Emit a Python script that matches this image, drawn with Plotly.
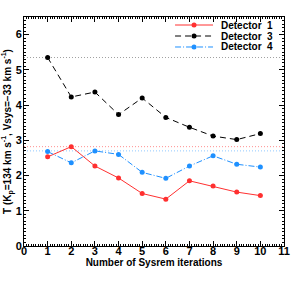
import plotly.graph_objects as go

iterations = [1, 2, 3, 4, 5, 6, 7, 8, 9, 10]
det1 = [2.53, 2.82, 2.27, 1.93, 1.49, 1.33, 1.85, 1.70, 1.53, 1.43]
det3 = [5.35, 4.23, 4.37, 3.73, 4.20, 3.65, 3.37, 3.12, 3.02, 3.19]
det4 = [2.68, 2.36, 2.70, 2.60, 2.09, 1.92, 2.27, 2.56, 2.32, 2.24]
names = ["Detector  1", "Detector  3", "Detector  4"]
x_ticks = list(range(0, 12))
y_ticks = list(range(0, 7))

font = "Liberation Sans"
fig = go.Figure()
series = [
    (det1, "#ff3030", "solid", "#ff9090"),
    (det3, "#000000", "6px,4px", "#a0a0a0"),
    (det4, "#1e90ff", "6px,2px,1px,2px", "#90c8ff"),
]
for vals, col, dash, light in series:
    fig.add_hline(y=max(vals), line=dict(color=light, width=1, dash="1px,2px"), layer="below")
for (vals, col, dash, light), nm in zip(series, names):
    fig.add_trace(go.Scatter(
        x=iterations, y=vals, name=nm, mode="lines+markers", showlegend=False,
        line=dict(color=col, width=1, dash=dash),
        marker=dict(color=col, size=5, symbol="circle"),
    ))

# hand-drawn legend (compact rows like the original)
leg_x0, leg_x1, leg_xm, leg_tx = 0.581, 0.727, 0.654, 0.75
leg_rows = [0.965, 0.917, 0.869]
for (vals, col, dash, light), nm, ry in zip(series, names, leg_rows):
    fig.add_shape(type="line", xref="paper", yref="paper", x0=leg_x0, x1=leg_x1, y0=ry, y1=ry,
                  line=dict(color=col, width=1, dash=dash))
    fig.add_shape(type="circle", xref="paper", yref="paper", xsizemode="pixel", ysizemode="pixel",
                  xanchor=leg_xm, yanchor=ry, x0=-2.5, x1=2.5, y0=-2.5, y1=2.5,
                  fillcolor=col, line=dict(color=col, width=0))
    fig.add_annotation(xref="paper", yref="paper", x=leg_tx, y=ry, xanchor="left", yanchor="middle",
                       text=nm.replace("  ", "&nbsp; "), showarrow=False,
                       font=dict(family=font, size=10, color="black", weight="bold"))

axis_common = dict(
    showline=True, linecolor="black", linewidth=1, mirror="ticks",
    ticks="inside", ticklen=5, tickcolor="black", showgrid=False, zeroline=False,
    tickfont=dict(family=font, size=11, color="black", weight="bold"),
    automargin=False,
    minor=dict(dtick=0.1, ticks="inside", ticklen=2, tickcolor="black", showgrid=False),
)
fig.update_xaxes(range=[0, 11], tickvals=x_ticks, ticklabelstandoff=-5,
                 title=dict(text="Number of Sysrem iterations",
                            font=dict(family=font, size=10, color="black", weight="bold"), standoff=1),
                 **axis_common)
fig.update_yaxes(range=[0, 6.5], tickvals=y_ticks, ticklabelstandoff=-1,
                 title=dict(text="T (K<sub>p</sub>=134 km s<sup>-1</sup>, Vsys=−33 km s<sup>-1</sup>)",
                            font=dict(family=font, size=10, color="black", weight="bold"), standoff=2),
                 **axis_common)
fig.update_layout(
    width=299, height=281,
    margin=dict(l=24, r=15, t=17, b=35),
    paper_bgcolor="white", plot_bgcolor="white",
    showlegend=False,
    font=dict(family=font, color="black"),
)
fig.write_html("out.html", config={"displayModeBar": False},
               post_script="document.body.style.margin='0';document.body.style.overflow='hidden';")
